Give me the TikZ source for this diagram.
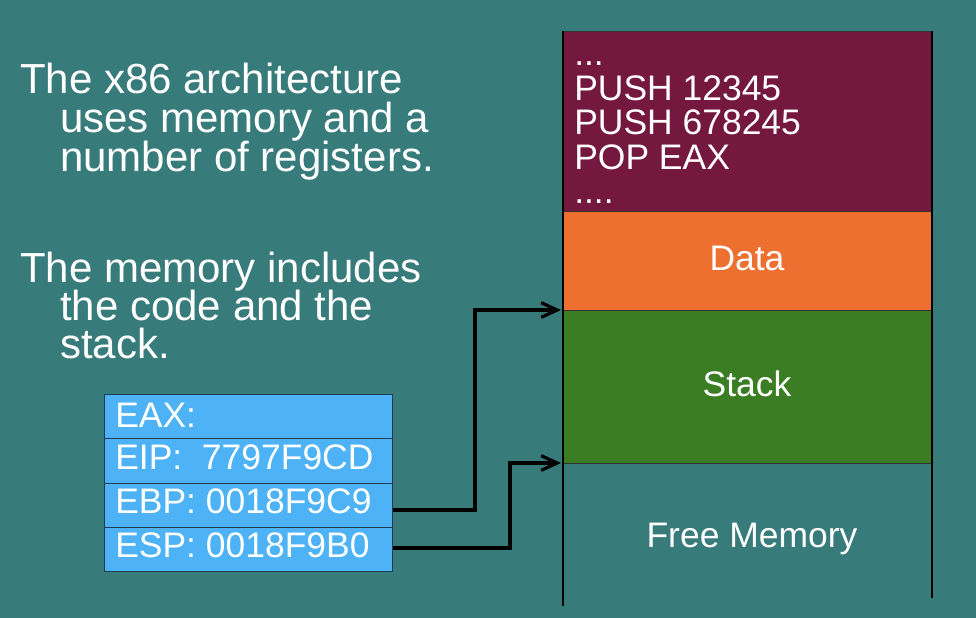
\documentclass[tikz,border=0pt]{standalone}
\usepackage{fontspec}
\setmainfont{Liberation Sans}
\usetikzlibrary{arrows.meta}
\definecolor{bg}{HTML}{387B7B}
\definecolor{regblue}{HTML}{4DB3F6}
\definecolor{regline}{HTML}{1E3D52}
\definecolor{codecol}{HTML}{75183F}
\definecolor{datacol}{HTML}{EE7030}
\definecolor{stackcol}{HTML}{3A7D23}
\tikzset{
  bigtxt/.style={text=white, inner sep=0pt, anchor=base west, font=\fontsize{31.5pt}{31.5pt}\selectfont},
  medtxt/.style={text=white, inner sep=0pt, anchor=base west, font=\fontsize{26.6pt}{26.6pt}\selectfont},
  reg/.style={draw=regline, line width=0.9pt, fill=regblue, anchor=north west, inner sep=0pt,
    minimum width=216pt, minimum height=33.2pt},
  memblock/.style={draw=black!80, line width=1pt, anchor=north west, inner sep=0pt, minimum width=276.75pt},
  side/.style={black, line width=1.5pt},
  arr/.style={black, line width=3pt, -{Straight Barb[length=12pt,width=11pt,line width=2.4pt]}}
}
\begin{document}
\begin{tikzpicture}[x=0.75pt,y=-0.75pt]
\path[fill=bg,use as bounding box] (0,0) rectangle (976,618);

% left text
\node[bigtxt] (t1) at (20,93) {The x86 architecture};
\node[bigtxt] (t2) at (60,132) {uses memory and a};
\node[bigtxt] (t3) at (60,171) {number of registers.};
\node[bigtxt] (t4) at (20,282) {The memory includes};
\node[bigtxt] (t5) at (60,320) {the code and the};
\node[bigtxt] (t6) at (60,358) {stack.};

% registers
\node[reg] (eax) at (104,394) {};
\node[reg] (eip) at (104,438.25) {};
\node[reg] (ebp) at (104,482.5) {};
\node[reg] (esp) at (104,526.75) {};
\node[medtxt] (leax) at (115,427) {EAX:};
\node[medtxt] (leip) at (115,469) {EIP:\ \ 7797F9CD};
\node[medtxt] (lebp) at (115,513) {EBP: 0018F9C9};
\node[medtxt] (lesp) at (115,557) {ESP: 0018F9B0};

% memory column
\node[memblock, fill=codecol, minimum height=135pt] (code) at (563,31) {};
\node[memblock, fill=datacol, minimum height=74.25pt] (data) at (563,211) {};
\node[memblock, fill=stackcol, minimum height=114.75pt] (stack) at (563,310) {};
\coordinate (lt) at (563,31);
\coordinate (lb) at (563,606);
\coordinate (rt) at (932,31);
\coordinate (rb) at (932,598);
\draw[side] (lt) -- (lb);
\draw[side] (rt) -- (rb);

\node[medtxt] (c0) at (574,65) {...};
\node[medtxt] (c1) at (574,100) {PUSH 12345};
\node[medtxt] (c2) at (574,134) {PUSH 678245};
\node[medtxt] (c3) at (574,169) {POP EAX};
\node[medtxt] (c4) at (574,203) {....};

\node[medtxt, anchor=base] (ldata) at (747,270) {Data};
\node[medtxt, anchor=base] (lstack) at (747,396) {Stack};
\node[medtxt, anchor=base] (lfree) at (752,547) {Free Memory};

% arrows
\coordinate (stacktop) at (561,310);
\coordinate (stackbot) at (561,463);
\draw[arr] ([yshift=-3.4pt]ebp.east) -- ++(82,0) |- (stacktop);
\draw[arr] ([yshift=1pt]esp.east) -- ++(117,0) |- (stackbot);
\end{tikzpicture}
\end{document}
